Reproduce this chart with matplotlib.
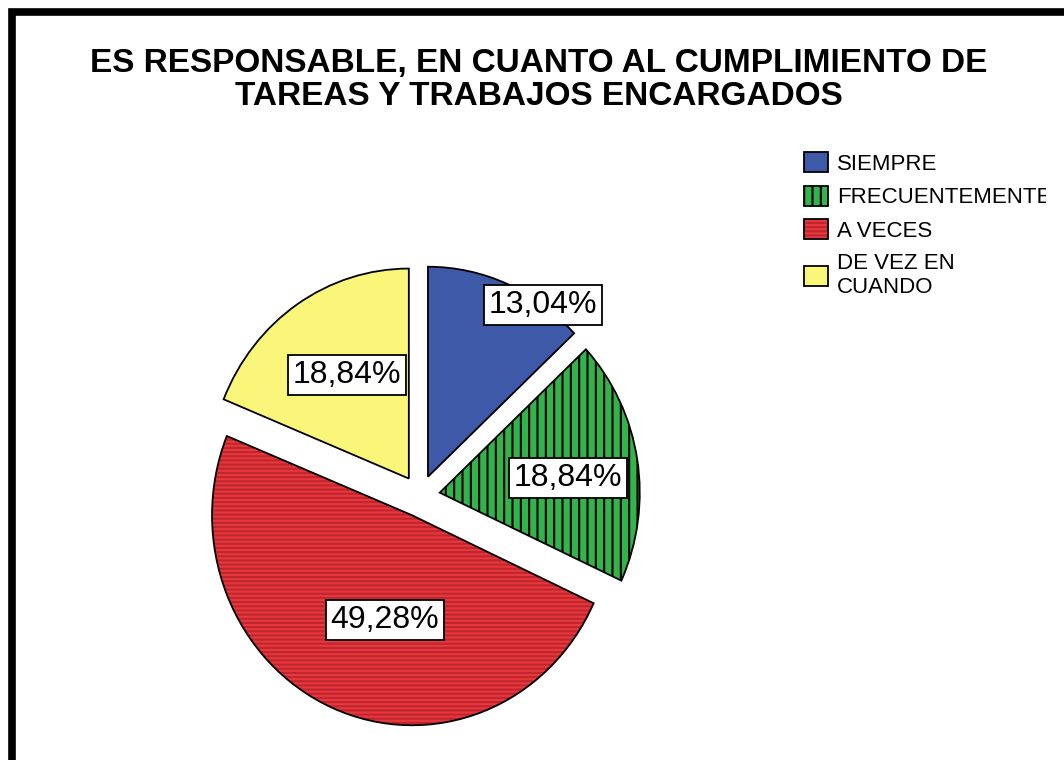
import matplotlib
matplotlib.use("Agg")
import matplotlib.pyplot as plt
from matplotlib.patches import Rectangle
from matplotlib.transforms import Bbox, TransformedBbox

plt.rcParams['font.family'] = ['Liberation Sans', 'DejaVu Sans']
plt.rcParams['hatch.linewidth'] = 1.5

# datos
categorias = ['SIEMPRE', 'FRECUENTEMENTE', 'A VECES', 'DE VEZ EN\nCUANDO']
porcentajes = [13.04, 18.84, 49.28, 18.84]
etiquetas = ['13,04%', '18,84%', '49,28%', '18,84%']

colores = ['#3e59a8', '#33b34a', '#e6383d', '#faf67a']
tramas = ['', '||', '----', '']
color_trama = ['#3e59a8', 'black', '#c0262e', '#faf67a']
separacion = [0.1, 0.1, 0.1, 0.1]
# posicion de cada rotulo (unidades del eje)
pos_rotulos = [(0.615, 0.91), (0.74, 0.086), (-0.175, -0.59), (-0.365, 0.576)]

fig = plt.figure(figsize=(10.64, 7.6), dpi=100)
ax = fig.add_axes([0, 0, 1, 1])

# capa de relleno con trama
relleno, _ = ax.pie(porcentajes, explode=separacion, colors=colores, hatch=tramas,
                    startangle=90, counterclock=False,
                    wedgeprops=dict(linewidth=0))
for w, hc in zip(relleno, color_trama):
    w.set_edgecolor(hc)
    w.set_linewidth(0)

# capa de contorno
contorno, _ = ax.pie(porcentajes, explode=separacion, startangle=90, counterclock=False,
                     wedgeprops=dict(facecolor='none', edgecolor='black', linewidth=1.3))

for txt, (x, y) in zip(etiquetas, pos_rotulos):
    ax.text(x, y, txt, ha='center', va='center', fontsize=23, color='black',
            bbox=dict(boxstyle='square,pad=0.15', facecolor='white',
                      edgecolor='black', linewidth=1.3))

# elipse como en el original (200 px en x, 210 px en y)
ax.set_aspect('auto')
ax.set_xlim(-420 / 200, (1064 - 420) / 200)
ax.set_ylim(-(760 - 496) / 210, 496 / 210)
ax.axis('off')

fig.text(539 / 1064, 1 - 80 / 760,
         'ES RESPONSABLE, EN CUANTO AL CUMPLIMIENTO DE\nTAREAS Y TRABAJOS ENCARGADOS',
         ha='center', va='center', fontsize=24, fontweight='bold', linespacing=1.05)

leg = ax.legend([(r, c) for r, c in zip(relleno, contorno)], categorias,
                loc='upper left', bbox_to_anchor=(804 / 1064, 1 - 152 / 760),
                bbox_transform=fig.transFigure, frameon=False, fontsize=16,
                handlelength=1.09, handleheight=1.0, handletextpad=0.4,
                labelspacing=0.5, borderpad=0, borderaxespad=0)
# el texto de la leyenda queda cortado como en el original
corte = TransformedBbox(Bbox([[0, 0], [1046 / 1064, 1]]), fig.transFigure)
for t in leg.get_texts():
    t.set_clip_box(corte)
    t.set_clip_on(True)

# marco grueso
fig.patches.append(Rectangle((12 / 1064, -0.1), 1.2, 1.1 - 11.5 / 760,
                             transform=fig.transFigure, fill=False,
                             edgecolor='black', linewidth=5.5))

fig.savefig('out.png', dpi=100)
